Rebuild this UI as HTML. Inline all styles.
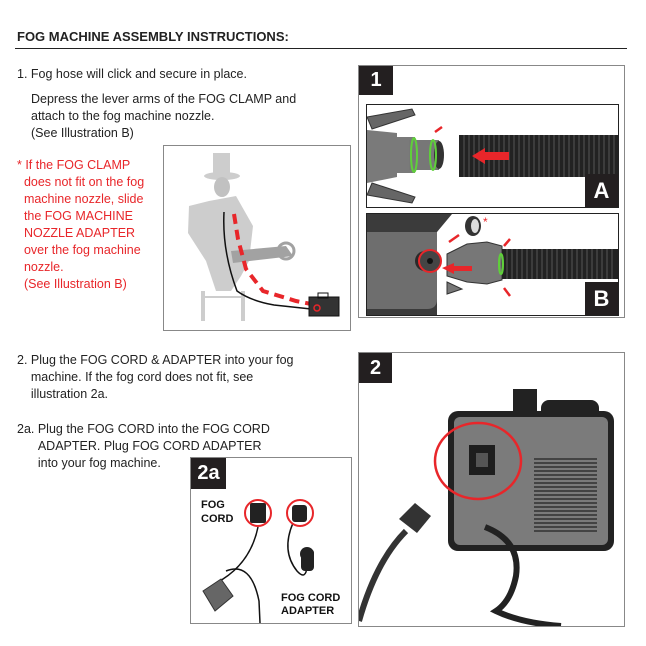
<!DOCTYPE html>
<html><head><style>
body{margin:0;width:646px;height:646px;background:#fff;font-family:"Liberation Sans",Arial,sans-serif;position:relative;overflow:hidden}
.t{position:absolute;font-size:12.5px;line-height:17px;color:#222;white-space:nowrap}
.r{color:#e8262a}
.box{position:absolute;border:1px solid #888;background:#fff}
.lab{position:absolute;background:#231f20;color:#fff;font-weight:bold;font-size:20px;text-align:center}
</style></head><body>
<div class="t" style="left:17px;top:28px;font-weight:bold;font-size:13px;">FOG MACHINE ASSEMBLY INSTRUCTIONS:</div>
<div style="position:absolute;left:15px;top:48px;width:612px;height:1px;background:#222"></div>

<div class="t" style="left:17px;top:66px">1. Fog hose will click and secure in place.</div>
<div class="t" style="left:31px;top:91px">Depress the lever arms of the FOG CLAMP and<br>attach to the fog machine nozzle.<br>(See Illustration B)</div>
<div class="t r" style="left:17px;top:157px">* If the FOG CLAMP<br>&nbsp;&nbsp;does not fit on the fog<br>&nbsp;&nbsp;machine nozzle, slide<br>&nbsp;&nbsp;the FOG MACHINE<br>&nbsp;&nbsp;NOZZLE ADAPTER<br>&nbsp;&nbsp;over the fog machine<br>&nbsp;&nbsp;nozzle.<br>&nbsp;&nbsp;(See Illustration B)</div>

<div class="t" style="left:17px;top:352px">2. Plug the FOG CORD &amp; ADAPTER into your fog<br>&nbsp;&nbsp;&nbsp;&nbsp;machine. If the fog cord does not fit, see<br>&nbsp;&nbsp;&nbsp;&nbsp;illustration 2a.</div>
<div class="t" style="left:17px;top:421px">2a. Plug the FOG CORD into the FOG CORD<br>&nbsp;&nbsp;&nbsp;&nbsp;&nbsp;&nbsp;ADAPTER. Plug FOG CORD ADAPTER<br>&nbsp;&nbsp;&nbsp;&nbsp;&nbsp;&nbsp;into your fog machine.</div>

<!-- witch illustration -->
<div class="box" style="left:163px;top:145px;width:186px;height:184px">
<svg width="186" height="184" viewBox="163 145 186 184" style="position:absolute;left:0;top:0">
<g fill="#c8c8c8" opacity="0.9">
<ellipse cx="221" cy="175" rx="18" ry="4"/>
<rect x="212" y="152" width="17" height="23"/>
<path d="M208 200 L235 195 L252 225 L248 260 L240 275 L230 290 L215 290 L205 260 L187 232 L188 205Z"/>
<ellipse cx="221" cy="186" rx="8" ry="10" fill="#bbb"/>
<path d="M230 250 L285 245 L292 255 L232 262Z" fill="#999"/>
<circle cx="285" cy="250" r="8" fill="none" stroke="#999" stroke-width="3"/>
<rect x="200" y="290" width="4" height="30"/><rect x="240" y="290" width="4" height="30"/>
<rect x="200" y="295" width="44" height="2"/>
</g>
<path d="M223 211 Q221 250 236 290 Q250 300 273 304 L310 308" fill="none" stroke="#111" stroke-width="1.5"/>
<g stroke="#e8262a" stroke-width="4" fill="none" stroke-dasharray="10 6">
<path d="M233 213 L237 238 L245 268 L262 290 L295 300 L310 303"/>
</g>
<rect x="308" y="296" width="30" height="19" fill="#333" stroke="#111"/>
<rect x="317" y="292" width="10" height="5" fill="none" stroke="#111"/>
<circle cx="316" cy="307" r="3" fill="none" stroke="#e8262a" stroke-width="1.5"/>
</svg></div>

<!-- panel 1 -->
<div class="box" style="left:358px;top:65px;width:265px;height:251px">
<div class="lab" style="left:0;top:0;width:34px;height:29px;line-height:29px">1</div>
<div style="position:absolute;left:7px;top:38px;width:251px;height:102px;border:1.5px solid #222;overflow:hidden">
<svg width="251" height="102" viewBox="0 0 251 102">
<path d="M0 12 L45 4 L48 10 L5 24Z" fill="#666" stroke="#333"/>
<path d="M0 90 L45 98 L48 92 L5 78Z" fill="#666" stroke="#333"/>
<path d="M0 25 L30 28 L30 72 L0 78Z" fill="#7a7a7a"/>
<rect x="12" y="32" width="36" height="36" fill="#7a7a7a"/>
<rect x="42" y="35" width="30" height="30" fill="#777"/>
<ellipse cx="72" cy="50" rx="5" ry="14" fill="#333"/>
<ellipse cx="47" cy="50" rx="3" ry="17" fill="none" stroke="#5fd03a" stroke-width="2"/>
<ellipse cx="66" cy="50" rx="3" ry="15" fill="none" stroke="#5fd03a" stroke-width="2"/>
<path d="M68 27 L75 22" stroke="#e8262a" stroke-width="2.5"/>
<rect x="92" y="30" width="160" height="42" fill="#222"/>
<g stroke="#555" stroke-width="1"><path d="M97 30V72M102 30V72M107 30V72M112 30V72M117 30V72M122 30V72M127 30V72M132 30V72M137 30V72M142 30V72M147 30V72M152 30V72M157 30V72M162 30V72M167 30V72M172 30V72M177 30V72M182 30V72M187 30V72M192 30V72M197 30V72M202 30V72M207 30V72M212 30V72M217 30V72M222 30V72M227 30V72M232 30V72M237 30V72M242 30V72M247 30V72"/></g>
<path d="M105 51 L118 43 L118 47 L142 47 L142 55 L118 55 L118 59Z" fill="#e8262a"/>
</svg>
<div class="lab" style="right:0;bottom:0;width:33px;height:33px;line-height:33px;font-size:22px">A</div>
</div>
<div style="position:absolute;left:7px;top:147px;width:251px;height:101px;border:1.5px solid #222;overflow:hidden">
<svg width="251" height="101" viewBox="0 0 251 101">
<path d="M0 0 L85 0 L70 18 L70 101 L0 101Z" fill="#3b3b3b"/>
<path d="M0 18 L70 18 L70 85 Q70 95 60 95 L0 95Z" fill="#6e6e6e"/>
<circle cx="58" cy="47" r="10" fill="#2a2a2a"/>
<circle cx="63" cy="47" r="11" fill="#444" stroke="#e8262a" stroke-width="2"/>
<circle cx="63" cy="47" r="3" fill="#111"/>
<ellipse cx="106" cy="12" rx="8" ry="10" fill="#333"/><ellipse cx="108" cy="12" rx="4" ry="7" fill="#ddd"/>
<text x="116" y="12" fill="#e8262a" font-size="12" font-family="Liberation Sans">*</text>
<path d="M80 40 L100 30 L120 28 L135 32 L135 66 L120 70 L100 68 L80 62 Z" fill="#777" stroke="#333"/>
<path d="M80 68 L95 75 L80 80Z" fill="#777" stroke="#333"/>
<rect x="135" y="35" width="116" height="30" fill="#222"/>
<g stroke="#555"><path d="M140 35V65M145 35V65M150 35V65M155 35V65M160 35V65M165 35V65M170 35V65M175 35V65M180 35V65M185 35V65M190 35V65M195 35V65M200 35V65M205 35V65M210 35V65M215 35V65M220 35V65M225 35V65M230 35V65M235 35V65M240 35V65M245 35V65"/></g>
<ellipse cx="134" cy="50" rx="2" ry="10" fill="none" stroke="#5fd03a" stroke-width="2"/>
<path d="M75 54 L87 49 L87 52 L105 52 L105 57 L87 57 L87 60Z" fill="#e8262a"/>
<path d="M92 21 L82 28" stroke="#e8262a" stroke-width="2.5"/>
<path d="M143 25 L137 32M143 82 L137 74" stroke="#e8262a" stroke-width="2.5"/>
</svg>
<div class="lab" style="right:0;bottom:0;width:33px;height:33px;line-height:33px;font-size:22px">B</div>
</div>
</div>

<!-- panel 2 -->
<div class="box" style="left:358px;top:352px;width:265px;height:273px;overflow:hidden">
<div class="lab" style="left:0;top:0;width:33px;height:30px;line-height:30px">2</div>
<svg width="265" height="273" viewBox="358 352 265 273" style="position:absolute;left:0;top:0">
<rect x="512" y="388" width="24" height="25" fill="#222"/>
<rect x="540" y="399" width="58" height="20" rx="8" fill="#222"/>
<rect x="447" y="410" width="166" height="140" rx="10" fill="#222"/>
<rect x="453" y="416" width="154" height="128" rx="6" fill="#7b7b7b"/>
<rect x="468" y="444" width="26" height="30" fill="#1e1e1e"/>
<path d="M475 452 h12 v14 h-12z" fill="#555"/>
<g stroke="#222" stroke-width="1.2"><path d="M533 458h63M533 462h63M533 466h63M533 470h63M533 474h63M533 478h63M533 482h63M533 486h63M533 490h63M533 494h63M533 498h63M533 502h63M533 506h63M533 510h63M533 514h63M533 518h63M533 522h63M533 526h63M533 530h63"/></g>
<ellipse cx="477" cy="460" rx="43" ry="38" fill="none" stroke="#e8262a" stroke-width="2.5"/>
<path d="M484 526 Q520 540 515 575 Q510 600 495 610 Q520 622 560 625" fill="none" stroke="#222" stroke-width="6"/>
<path d="M358 620 Q375 560 405 530" fill="none" stroke="#333" stroke-width="6"/>
<path d="M398 518 L414 502 L430 515 L416 532Z" fill="#333"/>
</svg>
</div>

<!-- panel 2a -->
<div class="box" style="left:190px;top:457px;width:160px;height:165px;overflow:hidden">
<div class="lab" style="left:0;top:0;width:35px;height:31px;line-height:31px">2a</div>
<div style="position:absolute;left:10px;top:40px;font-weight:bold;font-size:11px;line-height:14px;color:#111">FOG<br>CORD</div>
<div style="position:absolute;left:90px;top:134px;font-weight:bold;font-size:11px;line-height:13px;color:#111">FOG CORD<br>ADAPTER</div>
<svg width="160" height="165" viewBox="190 457 160 165" style="position:absolute;left:0;top:0">
<path d="M257 526 Q250 560 222 578 L212 585" fill="none" stroke="#111" stroke-width="1.5"/>
<path d="M225 570 Q250 560 258 600 L259 622" fill="none" stroke="#111" stroke-width="1.5"/>
<path d="M202 590 L220 578 L232 595 L214 610Z" fill="#666" stroke="#333"/>
<rect x="249" y="502" width="16" height="20" rx="2" fill="#222"/>
<circle cx="257" cy="512" r="13" fill="none" stroke="#e8262a" stroke-width="2"/>
<path d="M292 522 Q280 550 296 570 Q305 580 306 565" fill="none" stroke="#111" stroke-width="1.5"/>
<rect x="291" y="504" width="15" height="17" rx="3" fill="#222"/>
<circle cx="299" cy="512" r="13" fill="none" stroke="#e8262a" stroke-width="2"/>
<rect x="300" y="548" width="13" height="22" rx="4" fill="#222"/>
<circle cx="306" cy="553" r="7" fill="#222"/>
</svg>
</div>
</body></html>
